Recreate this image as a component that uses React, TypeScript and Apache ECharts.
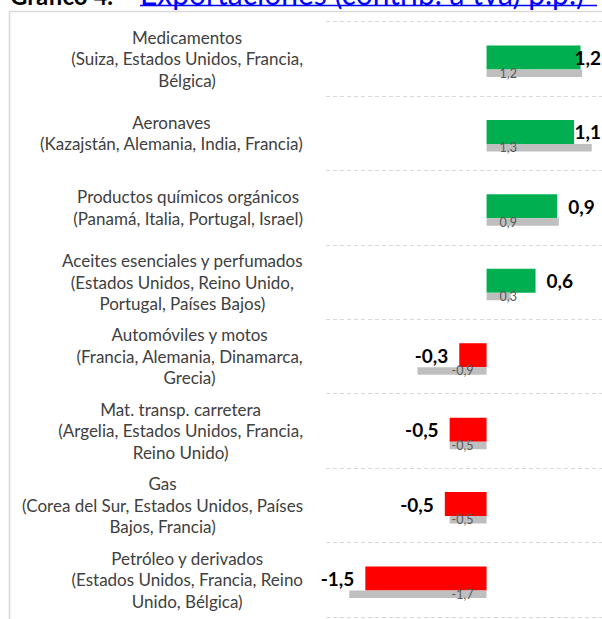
import React, { useEffect, useRef } from "react";
import * as echarts from "echarts";

const categories = [
  "Medicamentos\n(Suiza, Estados Unidos, Francia,\nBélgica)",
  "Aeronaves\n(Kazajstán, Alemania, India, Francia)",
  "Productos químicos orgánicos\n(Panamá, Italia, Portugal, Israel)",
  "Aceites esenciales y perfumados\n(Estados Unidos, Reino Unido,\nPortugal, Países Bajos)",
  "Automóviles y motos\n(Francia, Alemania, Dinamarca,\nGrecia)",
  "Mat. transp. carretera\n(Argelia, Estados Unidos, Francia,\nReino Unido)",
  "Gas\n(Corea del Sur, Estados Unidos, Países\nBajos, Francia)",
  "Petróleo y derivados\n(Estados Unidos, Francia, Reino\nUnido, Bélgica)",
];

const currentValues = [1.17, 1.09, 0.88, 0.61, -0.34, -0.46, -0.52, -1.51];
const previousValues = [1.19, 1.31, 0.9, 0.3, -0.86, -0.46, -0.46, -1.71];

const titleNumber = "Gráfico 4.";
const titleText = "Exportaciones (contrib. a tva) p.p.)";

const GREEN = "#00b050";
const RED = "#ff0000";
const GRAY = "#bfbfbf";
const FONT = "Lato";
const W = 602;
const H = 619;
const CHART_W = 610;

const fmt = (v: number) => v.toFixed(1).replace(".", ",");

export default function App() {
  const ref = useRef<HTMLDivElement>(null);

  useEffect(() => {
    if (!ref.current) return;
    const chart = echarts.init(ref.current, undefined, { renderer: "svg" });
    chart.setOption({
      animation: false,
      backgroundColor: "#ffffff",
      grid: { left: 326, right: CHART_W - 607, top: 21.5, bottom: 2, containLabel: false },
      xAxis: {
        type: "value",
        min: -2,
        max: 1.5,
        axisLine: { show: false },
        axisTick: { show: false },
        axisLabel: { show: false },
        splitLine: { show: false },
      },
      yAxis: {
        type: "category",
        data: categories,
        inverse: true,
        axisLine: { show: false, onZero: false },
        axisTick: { show: false },
        axisLabel: {
          interval: 0,
          margin: 23,
          align: "right",
          formatter: (v: string) =>
            v
              .split("\n")
              .map((l) => `{a|${l}}`)
              .join("\n"),
          rich: {
            a: {
              align: "center",
              fontFamily: FONT,
              fontSize: 17,
              lineHeight: 21.5,
              color: "#404040",
            },
          },
        },
        splitLine: {
          show: true,
          interval: 0,
          lineStyle: { color: "#d9d9d9", type: [4, 3], width: 1 },
        },
      },
      labelLayout: (params: any) => {
        const r = params.labelRect;
        if (r && r.x + r.width > W - 1) {
          return { dx: W - 1 - (r.x + r.width) };
        }
        return {};
      },
      series: [
        {
          name: "spacer",
          type: "bar",
          barWidth: 5,
          barGap: "0%",
          silent: true,
          itemStyle: { color: "rgba(0,0,0,0)" },
          data: categories.map(() => 0),
        },
        {
          name: "actual",
          type: "bar",
          barWidth: 24,
          barGap: "0%",
          z: 2,
          data: currentValues.map((v) => ({
            value: v,
            itemStyle: { color: v >= 0 ? GREEN : RED },
          })),
          label: {
            show: true,
            position: "outside",
            distance: 11,
            fontFamily: FONT,
            fontWeight: "bold",
            fontSize: 19,
            color: "#000000",
            formatter: (p: any) => fmt(p.value),
          },
        },
        {
          name: "anterior",
          type: "bar",
          barWidth: 7.5,
          barGap: "0%",
          z: 3,
          itemStyle: { color: GRAY },
          data: previousValues.map((v) => ({
            value: v,
            label: { position: v >= 0 ? "insideLeft" : "insideRight" },
          })),
          label: {
            show: true,
            distance: 13,
            fontFamily: FONT,
            fontSize: 12.5,
            color: "#595959",
            formatter: (p: any) => fmt(p.value),
          },
        },
      ],
      graphic: [
        {
          type: "rect",
          silent: true,
          shape: { x: 9.5, y: 11.5, width: 700, height: 700 },
          style: { fill: "none", stroke: "#d9d9d9", lineWidth: 1.5 },
          z: -1,
        },
        {
          type: "text",
          x: 10,
          y: 7,
          style: {
            text: titleNumber,
            fontFamily: FONT,
            fontWeight: "bold",
            fontSize: 24,
            fill: "#000000",
            verticalAlign: "bottom",
          },
        },
        {
          type: "text",
          x: 140,
          y: 7.5,
          style: {
            text: titleText,
            fontFamily: FONT,
            fontSize: 30,
            fill: "#0000ff",
            verticalAlign: "bottom",
          },
        },
        {
          type: "line",
          shape: { x1: 140, y1: 5.5, x2: 597, y2: 5.5 },
          style: { stroke: "#0000ff", lineWidth: 1.5 },
        },
      ],
    });
    return () => chart.dispose();
  }, []);

  return (
    <div
      style={{
        position: "fixed",
        left: 0,
        top: 0,
        width: W,
        height: H,
        overflow: "hidden",
        background: "#ffffff",
      }}
    >
      <div ref={ref} style={{ width: CHART_W, height: H }} />
    </div>
  );
}
